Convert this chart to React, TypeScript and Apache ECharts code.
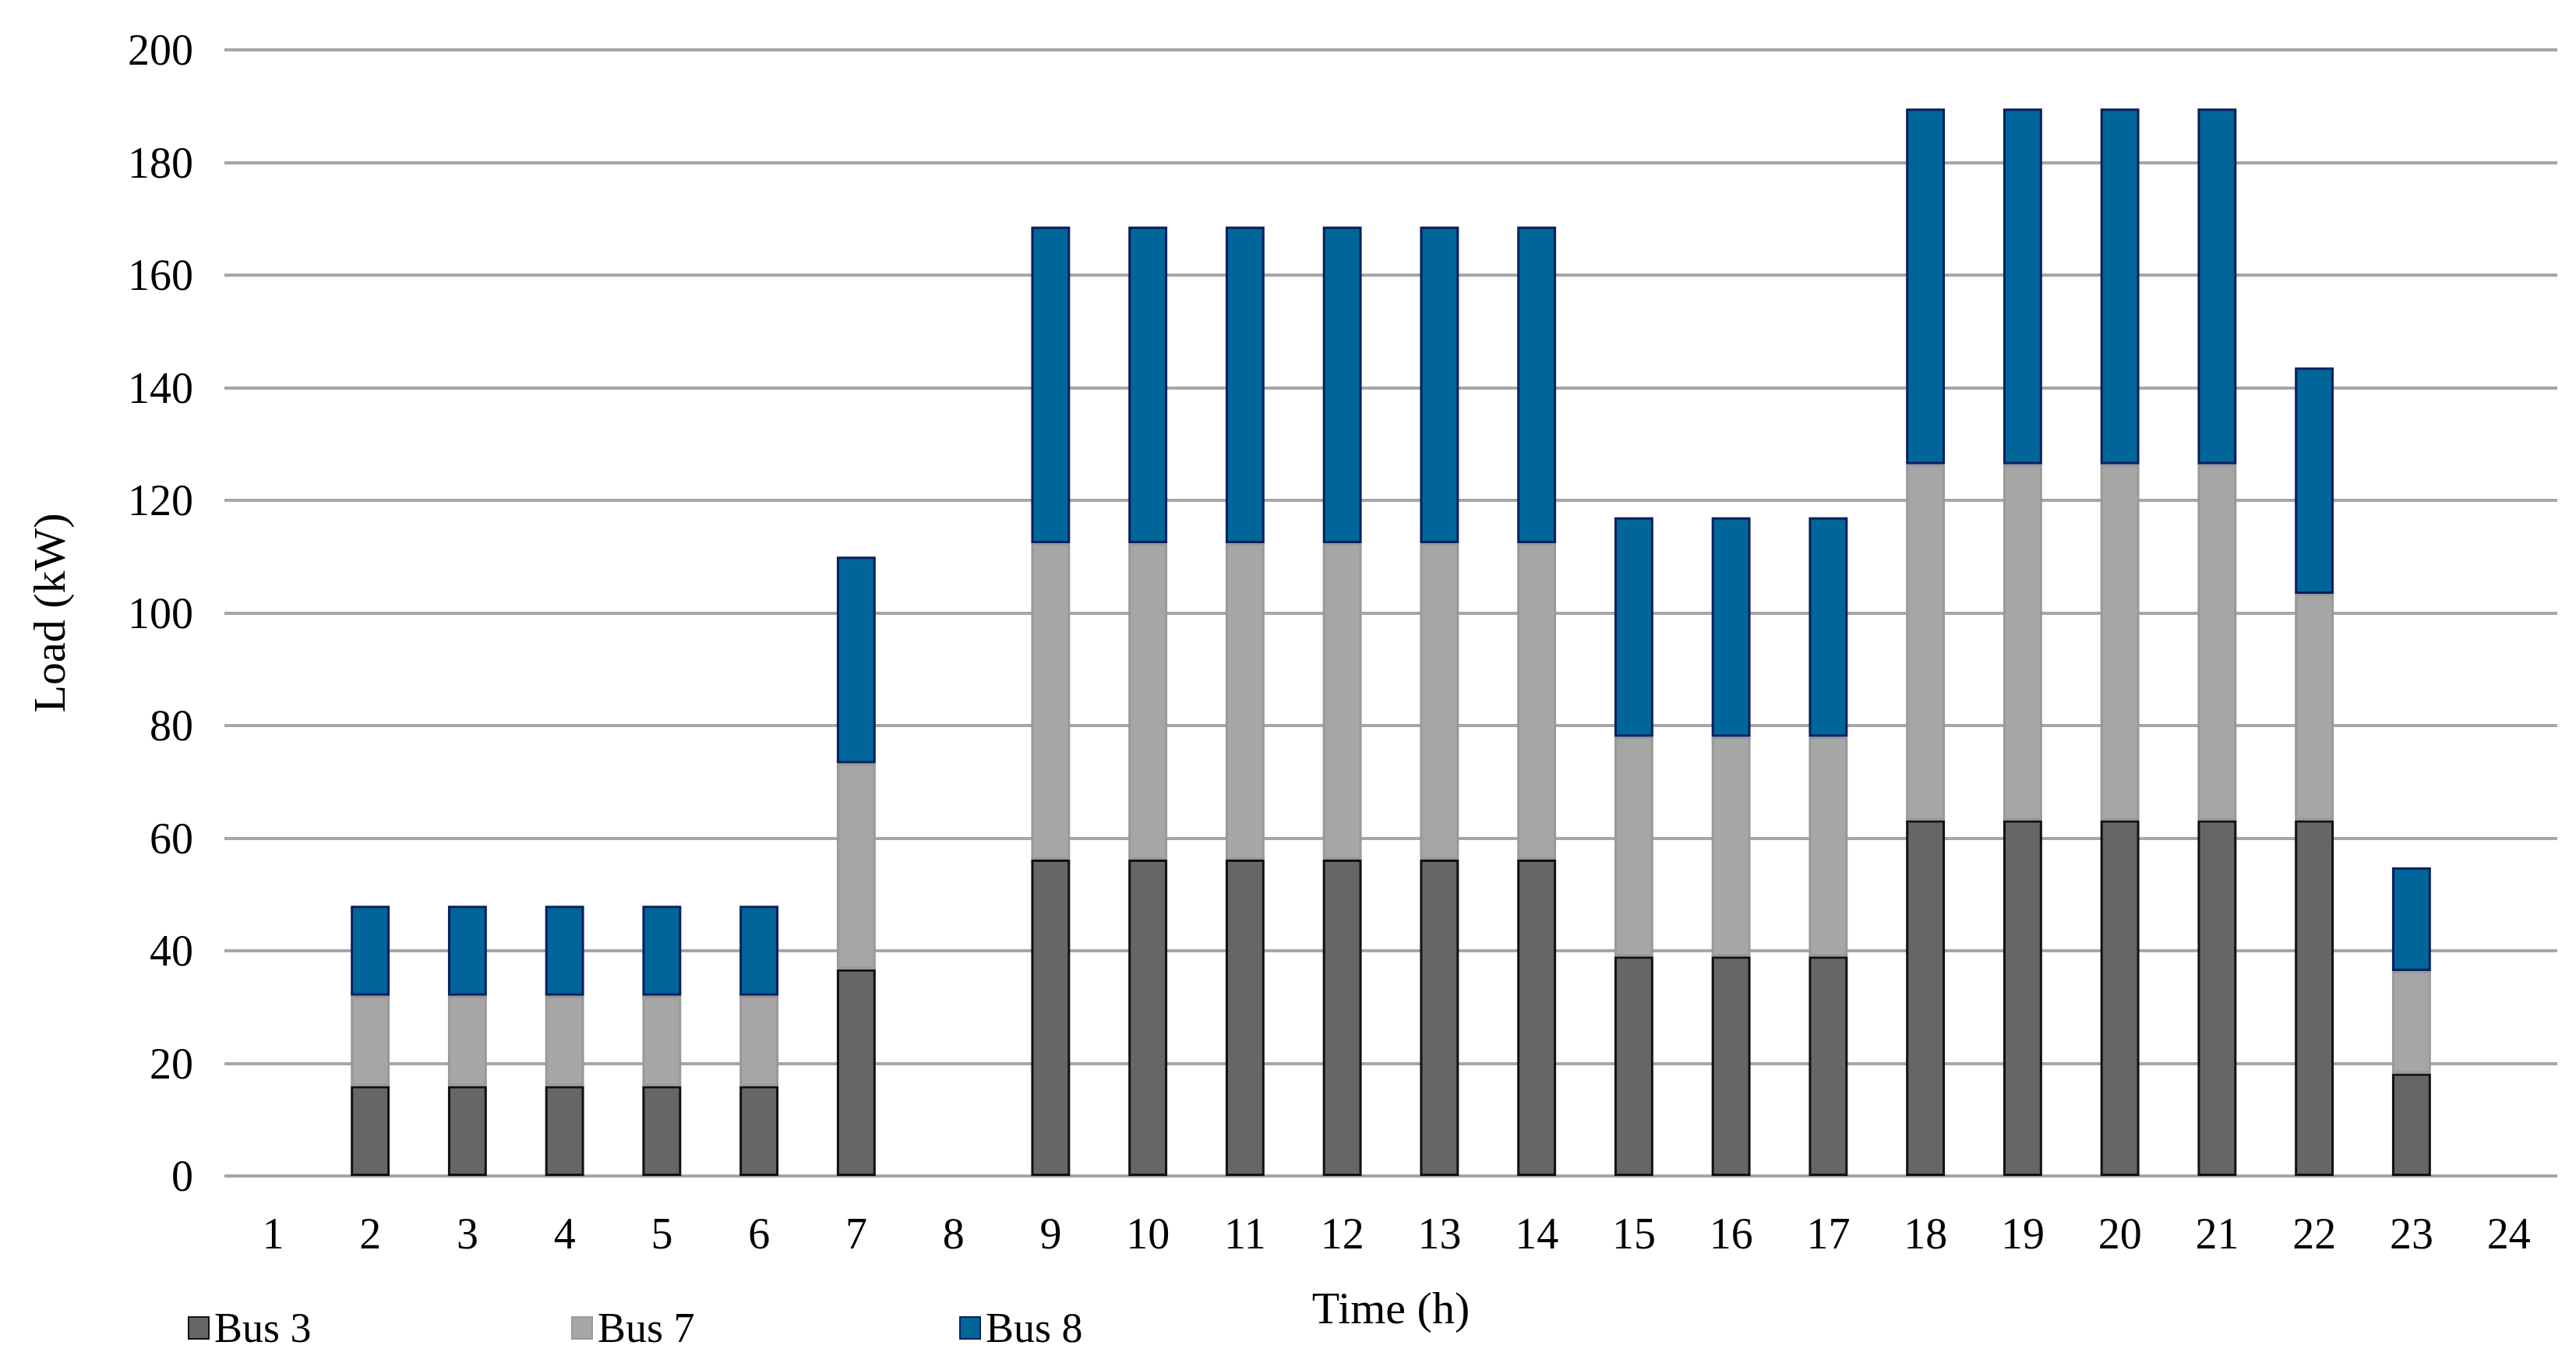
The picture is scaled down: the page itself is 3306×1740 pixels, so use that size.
import React, { useEffect, useRef } from "react";
import * as echarts from "echarts";

const hours = ["1","2","3","4","5","6","7","8","9","10","11","12","13","14","15","16","17","18","19","20","21","22","23","24"];
const bus3 = [0,16,16,16,16,16,36.7,0,56.2,56.2,56.2,56.2,56.2,56.2,39,39,39,63.2,63.2,63.2,63.2,63.2,18.2,0];
const bus7 = [0,16,16,16,16,16,36.6,0,56.2,56.2,56.2,56.2,56.2,56.2,39,39,39,63.2,63.2,63.2,63.2,40.2,18.2,0];
const bus8 = [0,16,16,16,16,16,36.7,0,56.2,56.2,56.2,56.2,56.2,56.2,39,39,39,63.2,63.2,63.2,63.2,40.2,18.4,0];
const yTicks = { min: 0, max: 200, interval: 20 };

const FONT = "'Liberation Serif', 'Times New Roman', serif";

export default function App() {
  const ref = useRef<HTMLDivElement>(null);
  useEffect(() => {
    document.body.style.margin = "0";
    const chart = echarts.init(ref.current!, null, { renderer: "svg" });
    const mk = (name: string, data: number[], color: string, border: string) => ({
      name,
      type: "bar",
      stack: "total",
      data: data.map((v) => (v === 0 ? "-" : v)),
      barWidth: "40%",
      itemStyle: { color, borderColor: border, borderWidth: 3 },
    });
    const legendItem = (name: string, left: number) => ({
      left,
      top: 1672,
      data: [name],
      icon: "rect",
      itemWidth: 26,
      itemHeight: 28,
      itemGap: 0,
      textStyle: { fontFamily: FONT, fontSize: 54, color: "#000", padding: [0, 0, 0, 2] },
    });
    chart.setOption({
      animation: false,
      backgroundColor: "#fff",
      grid: { left: 288, right: 24, top: 64, bottom: 231, containLabel: false },
      legend: [legendItem("Bus 3", 236), legendItem("Bus 7", 728), legendItem("Bus 8", 1226)],
      xAxis: {
        type: "category",
        data: hours,
        name: "Time (h)",
        nameLocation: "middle",
        nameGap: 140,
        nameTextStyle: { fontFamily: FONT, fontSize: 58, color: "#000" },
        axisLine: { show: false },
        axisTick: { show: false },
        axisLabel: { fontFamily: FONT, fontSize: 56, color: "#000", margin: 46 },
      },
      yAxis: {
        type: "value",
        min: yTicks.min,
        max: yTicks.max,
        interval: yTicks.interval,
        name: "Load (kW)",
        nameLocation: "middle",
        nameGap: 196,
        nameTextStyle: { fontFamily: FONT, fontSize: 58, color: "#000" },
        axisLine: { show: false },
        axisTick: { show: false },
        axisLabel: { fontFamily: FONT, fontSize: 56, color: "#000", margin: 40 },
        splitLine: { lineStyle: { color: "#a6a6a6", width: 4 } },
      },
      series: [
        mk("Bus 3", bus3, "#666666", "#111111"),
        mk("Bus 7", bus7, "#a6a6a6", "#999999"),
        mk("Bus 8", bus8, "#006699", "#0a1f5c"),
      ],
    });
    return () => chart.dispose();
  }, []);
  return <div ref={ref} style={{ width: 3306, height: 1740 }} />;
}
